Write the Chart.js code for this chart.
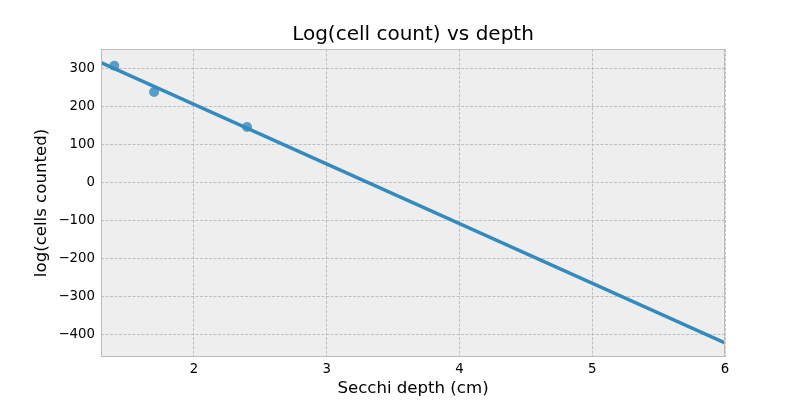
<!DOCTYPE html>
<html>
<head>
<meta charset="utf-8">
<script src="https://cdn.jsdelivr.net/npm/chart.js@4/dist/chart.umd.min.js"></script>
<style>
  html,body{margin:0;padding:0;background:#fff;}
  #wrap{width:806px;height:400px;}
</style>
</head>
<body>
<div id="wrap"><canvas id="chart" width="806" height="400"></canvas></div>
<script>
// measured points (secchi depth, log cells)
var depthList=[1.4,1.7,2.4];
var cellList=[308,239,147];
// fitted line ends
var fitX=[1.3,6];
var fitY=[316,-421];
var xTicks=[2,3,4,5,6];
var yTicks=[-400,-300,-200,-100,0,100,200,300];

var blue="#348ABD";
var font="'DejaVu Sans', sans-serif";

var pts=[];
for(var i=0;i<depthList.length;i++){
    pts.push({x:depthList[i],y:cellList[i]});
}
var fit=[];
for(var i=0;i<fitX.length;i++){
    fit.push({x:fitX[i],y:fitY[i]});
}

//背景和边框
var frame={
    id:"frame",
    beforeDraw:function(c){
        var a=c.chartArea,ctx=c.ctx;
        ctx.save();
        ctx.fillStyle="#eeeeee";
        ctx.fillRect(a.left,a.top,a.right-a.left,a.bottom-a.top);
        ctx.restore();
    },
    afterDatasetsDraw:function(c){
        var a=c.chartArea,ctx=c.ctx;
        ctx.save();
        ctx.strokeStyle="#bcbcbc";
        ctx.lineWidth=1;
        ctx.strokeRect(a.left+0.5,a.top+0.5,a.right-a.left-1,a.bottom-a.top-1);
        ctx.restore();
    }
};

var chart=new Chart(document.getElementById("chart"),{
    type:"scatter",
    data:{
        datasets:[
            {
                label:"fit",
                data:fit,
                showLine:true,
                borderColor:blue,
                borderWidth:3.5,
                pointRadius:0,
                fill:false
            },
            {
                label:"cells",
                data:pts,
                backgroundColor:"rgba(52,138,189,0.8)",
                borderWidth:0,
                pointRadius:5
            }
        ]
    },
    options:{
        responsive:false,
        animation:false,
        layout:{padding:{left:0,right:81,top:0,bottom:0}},
        plugins:{
            legend:{display:false},
            tooltip:{enabled:false},
            title:{
                display:true,
                fullSize:false,
                text:"Log(cell count) vs depth",
                color:"#000",
                font:{family:font,size:20,weight:"normal"},
                padding:{top:23,bottom:2}
            }
        },
        scales:{
            x:{
                type:"linear",
                min:1.3,
                max:6,
                afterFit:function(s){s.height=43;},
                afterBuildTicks:function(s){
                    s.ticks=xTicks.map(function(v){return {value:v};});
                },
                ticks:{
                    color:"#000",
                    padding:5,
                    font:{family:font,size:13.3},
                    callback:function(v){return String(v);}
                },
                grid:{
                    color:"#b2b2b2",
                    lineWidth:0.8,
                    drawTicks:false
                },
                border:{display:false,dash:[3,1.5]},
                title:{
                    display:true,
                    text:"Secchi depth (cm)",
                    color:"#000",
                    font:{family:font,size:16.6},
                    padding:{top:0,bottom:1}
                }
            },
            y:{
                type:"linear",
                min:-458,
                max:352,
                afterFit:function(s){s.width=101;},
                afterBuildTicks:function(s){
                    s.ticks=yTicks.map(function(v){return {value:v};});
                },
                ticks:{
                    color:"#000",
                    padding:6,
                    font:{family:font,size:13.3},
                    callback:function(v){return String(v).replace("-","\u2212");}
                },
                grid:{
                    color:"#b2b2b2",
                    lineWidth:0.8,
                    drawTicks:false
                },
                border:{display:false,dash:[3,1.5]},
                title:{
                    display:true,
                    text:"log(cells counted)",
                    color:"#000",
                    font:{family:font,size:16.6},
                    padding:{top:32,bottom:0}
                }
            }
        }
    },
    plugins:[frame]
});
</script>
</body>
</html>
